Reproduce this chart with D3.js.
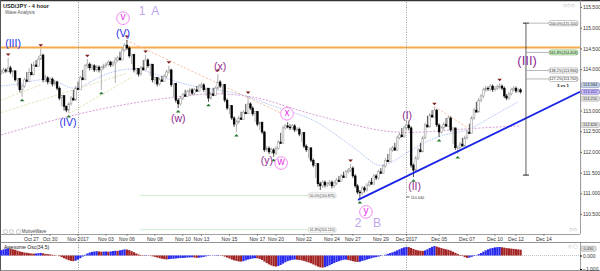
<!DOCTYPE html>
<html><head><meta charset="utf-8">
<script src="https://cdn.jsdelivr.net/npm/d3@7"></script>
<style>html,body{margin:0;padding:0;background:#fff;}svg{display:block;font-family:"Liberation Sans",Arial,sans-serif;}</style>
</head><body><svg id="c" width="600" height="271"></svg>
<script>
// ---------- DATA ----------
const firstOpen = 113.90;
const closes = [113.93,113.98,113.95,114.03,113.93,113.96,113.74,113.78,113.50,113.59,113.74,113.70,113.92,113.86,114.10,114.06,114.24,114.34,113.74,113.79,
113.69,113.76,113.64,113.69,113.54,113.30,113.36,113.10,113.01,113.16,113.30,113.25,113.54,113.50,113.79,113.74,114.08,114.12,114.03,114.08,
113.98,114.05,113.98,114.03,114.08,114.12,114.17,114.10,114.15,114.22,114.27,114.22,114.46,114.58,114.51,114.32,114.36,113.98,114.02,113.88,
114.03,113.98,114.22,114.08,114.12,113.74,113.80,113.64,113.74,113.70,113.83,113.93,113.98,113.62,113.66,113.25,113.16,113.30,113.38,113.34,
113.45,113.50,113.42,113.50,113.46,113.59,113.62,113.50,113.54,113.30,113.40,113.36,113.54,113.69,113.59,113.63,113.25,113.06,113.12,112.82,
112.67,112.72,112.82,112.78,112.96,112.92,113.16,113.06,112.92,112.98,112.67,112.72,112.48,112.05,112.09,112.00,112.05,111.97,112.09,112.24,
112.20,112.58,112.63,112.60,112.58,112.63,112.53,112.55,112.43,112.47,112.14,112.05,112.10,111.80,111.68,111.72,111.23,111.18,111.27,111.20,
111.23,111.27,111.18,111.25,111.32,111.28,111.42,111.38,111.52,111.56,111.61,111.42,111.18,111.03,111.01,111.13,111.08,111.20,111.27,111.22,
111.42,111.37,111.52,111.48,111.66,111.80,111.76,112.05,112.10,112.04,112.34,112.41,112.36,112.58,112.65,112.58,111.68,111.56,111.85,112.05,
112.00,112.34,112.65,112.60,112.89,112.84,113.01,112.65,112.48,112.58,112.67,112.62,112.82,112.53,112.58,112.10,112.10,112.19,112.14,112.34,
112.48,112.44,112.82,113.01,112.96,113.25,113.35,113.50,113.54,113.52,113.59,113.50,113.54,113.57,113.59,113.54,113.35,113.30,113.40,113.50,
113.54,113.47,113.50,113.45];
const highs = [113.99,114.04,114.02,114.27,114.08,113.97,113.90,113.78,113.68,113.64,113.79,113.93,114.03,114.13,114.18,114.22,114.31,114.49,114.37,113.86,
113.83,113.81,113.80,113.74,113.72,113.58,113.34,113.20,113.12,113.20,113.35,113.50,113.60,113.70,113.84,113.98,114.12,114.24,114.16,114.13,
114.12,114.10,114.09,114.08,114.13,114.17,114.22,114.20,114.20,114.29,114.32,114.42,114.51,114.63,114.70,114.55,114.36,114.20,114.03,113.98,
114.08,114.22,114.34,114.26,114.12,113.92,113.79,113.73,113.79,113.84,113.88,113.98,114.08,114.01,113.66,113.42,113.30,113.35,113.43,113.50,
113.50,113.55,113.54,113.55,113.59,113.64,113.68,113.66,113.54,113.44,113.45,113.55,113.59,113.88,113.73,113.63,113.49,113.29,113.10,113.00,
112.86,112.78,112.87,112.97,113.01,113.16,113.35,113.20,113.10,112.96,112.81,112.71,112.62,112.51,112.14,112.13,112.10,112.09,112.14,112.29,
112.46,112.63,112.68,112.72,112.67,112.68,112.67,112.60,112.59,112.47,112.33,112.18,112.09,111.94,111.84,111.72,111.46,111.28,111.32,111.31,
111.28,111.32,111.31,111.30,111.37,111.42,111.47,111.52,111.57,111.61,111.71,111.65,111.46,111.22,111.08,111.18,111.17,111.25,111.32,111.37,
111.47,111.46,111.57,111.61,111.71,111.85,111.95,112.10,112.15,112.22,112.39,112.46,112.58,112.63,112.77,112.75,112.62,111.72,111.90,112.10,
112.22,112.39,112.70,112.87,112.94,113.01,113.08,113.04,112.69,112.63,112.72,112.82,112.87,112.86,112.57,112.28,112.16,112.24,112.34,112.39,
112.53,112.68,112.87,113.06,113.21,113.30,113.40,113.55,113.60,113.58,113.64,113.63,113.59,113.62,113.66,113.63,113.58,113.40,113.45,113.55,
113.59,113.58,113.55,113.54];
const lows = [113.86,113.90,113.91,113.92,113.88,113.80,113.70,113.58,113.44,113.33,113.55,113.70,113.84,113.94,114.02,114.08,114.12,114.22,113.68,113.68,
113.63,113.64,113.58,113.60,113.49,113.25,113.10,113.00,112.96,112.94,113.12,113.26,113.40,113.50,113.60,113.75,113.89,114.02,113.97,113.98,
113.93,113.94,113.92,113.50,113.99,114.03,114.08,114.05,114.06,113.67,114.17,114.23,114.33,114.42,114.46,114.27,114.12,113.92,113.87,113.82,
113.84,113.99,114.12,114.03,113.83,113.68,113.63,113.58,113.60,113.70,113.74,113.79,113.89,113.57,113.33,113.19,113.06,113.12,113.25,113.33,
113.35,113.36,113.37,113.38,113.46,113.50,113.54,113.45,113.35,113.21,113.26,113.36,113.46,113.50,113.54,113.40,113.20,113.01,112.91,112.77,
112.60,112.48,112.68,112.78,112.88,112.92,113.07,113.01,112.87,112.72,112.62,112.53,112.43,112.00,112.00,111.95,111.96,111.88,111.93,112.05,
112.20,112.37,112.54,112.57,112.53,112.54,112.48,112.49,112.38,112.24,112.09,112.00,111.85,111.75,111.63,111.37,111.16,111.08,111.13,111.14,
111.15,111.18,111.12,111.13,111.20,111.27,111.32,111.37,111.42,111.47,111.51,111.37,111.13,110.98,110.86,110.96,111.02,111.04,111.16,111.22,
111.28,111.32,111.33,111.47,111.52,111.62,111.76,111.86,112.00,112.05,112.13,112.30,112.37,112.48,112.53,112.52,111.62,111.39,111.52,111.81,
112.00,112.12,112.30,112.60,112.77,112.84,112.91,112.60,112.36,112.44,112.53,112.62,112.72,112.48,112.19,112.05,111.95,112.05,112.14,112.24,
112.30,112.43,112.58,112.77,112.96,113.11,113.20,113.30,113.45,113.47,113.47,113.45,113.46,113.49,113.52,113.49,113.30,113.25,113.26,113.36,
113.46,113.42,113.43,113.41];
const aoValues = [0.40,0.45,0.50,0.52,0.50,0.46,0.42,0.36,0.30,0.26,0.22,0.20,0.17,0.15,0.14,0.15,0.17,0.19,0.16,0.12,
0.10,0.08,0.05,0.03,0.00,-0.05,-0.12,-0.20,-0.28,-0.35,-0.40,-0.42,-0.38,-0.30,-0.20,-0.08,0.05,0.15,0.22,0.27,
0.30,0.32,0.30,0.28,0.29,0.30,0.28,0.30,0.33,0.35,0.34,0.38,0.42,0.45,0.44,0.40,0.32,0.24,0.15,0.08,
0.03,0.02,0.03,0.01,-0.02,-0.06,-0.10,-0.15,-0.20,-0.24,-0.27,-0.29,-0.27,-0.25,-0.24,-0.22,-0.20,-0.19,-0.18,-0.17,
-0.15,-0.14,-0.13,-0.15,-0.17,-0.16,-0.14,-0.10,-0.06,-0.03,-0.01,0.01,0.02,0.03,0.01,-0.03,-0.08,-0.15,-0.22,-0.30,
-0.36,-0.40,-0.44,-0.45,-0.42,-0.36,-0.30,-0.26,-0.22,-0.20,-0.21,-0.25,-0.33,-0.45,-0.56,-0.66,-0.74,-0.80,-0.82,-0.78,
-0.70,-0.60,-0.50,-0.42,-0.36,-0.32,-0.30,-0.31,-0.33,-0.36,-0.40,-0.46,-0.52,-0.58,-0.66,-0.74,-0.82,-0.88,-0.90,-0.86,
-0.80,-0.72,-0.64,-0.56,-0.48,-0.42,-0.36,-0.32,-0.30,-0.33,-0.38,-0.42,-0.46,-0.48,-0.46,-0.40,-0.36,-0.30,-0.25,-0.20,
-0.15,-0.12,-0.08,-0.04,0.00,0.06,0.12,0.18,0.24,0.30,0.38,0.46,0.54,0.60,0.64,0.62,0.56,0.48,0.42,0.38,
0.35,0.34,0.38,0.46,0.56,0.64,0.70,0.66,0.60,0.55,0.50,0.46,0.42,0.36,0.28,0.20,0.12,0.04,-0.04,-0.12,
-0.18,-0.16,-0.10,-0.04,0.02,0.10,0.18,0.28,0.38,0.46,0.52,0.56,0.60,0.62,0.63,0.61,0.58,0.55,0.53,0.51,
0.49,0.47,0.45,0.43];

// 113.500 is hidden behind the price tags in the reference, so it is not listed
const priceTicks = [110.5,111,111.5,112,112.5,113,114,114.5,115,115.5];
const aoTicks = [0,-1];
const dateTickIdx = [13,21,33,45,54,66,78,86,98,110,118,130,142,151,163,174,188,200,212,221,233];
const dateTickLabels = ["Oct 27","Oct 30","Nov 2017","Nov 03","Nov 06","Nov 08","Nov 10","Nov 13","Nov 15","Nov 17","Nov 20","Nov 22","Nov 24","Nov 27","Nov 29","Dec 2017","Dec 05","Dec 07","Dec 10","Dec 12","Dec 14"];
const monthLineIdx = [33,174];

const resistanceLevel = 114.52;
const trendIdx = [153.2, 248.5];
const trendPrice = [110.84, 113.45];

const peakIdx = [3,17,37,54,62,72,93,106,123,150,186,214];
const troughIdx = [9,29,43,76,89,101,117,154,177,188,196];

// moving averages (read as sparse points: index, price)
const fastMaIdx   = [0,8,19,25,30,36,42,53,62,72,85,102,118,133,142,157,163,177,191,200,210,222];
const fastMaPrice = [113.59,113.64,113.79,113.69,113.50,113.59,113.83,114.03,113.98,113.74,113.54,113.45,113.06,112.84,112.48,111.88,111.52,112.12,112.46,112.48,112.84,113.21];
const slowMaIdx   = [0,21,42,64,81,92,111,124,137,150,163,176,193,206,223];
const slowMaPrice = [112.41,112.75,113.04,113.25,113.37,113.43,113.33,113.06,112.86,112.67,112.50,112.45,112.53,112.58,112.63];

// trend-line annotations (index, price pairs)
const orangeLines = [[[53.6,114.70],[120,112.94]],[[186,113.10],[201,112.55]]];
const oliveLines  = [[[0,113.25],[17,113.62]],[[0,112.95],[54,113.90]],[[29,112.92],[56,113.80]]];

// Fibonacci projection
const fibPct = ["200.0%","161.8%","138.2%","127.2%"];
const fibVal = [115.110,114.403,113.966,113.762];
const fibLineIdx = 225.3;
const fibBottom = 111.44;
const retrPct = ["50.0%","61.8%"];
const retrVal = [110.875,110.110];
const retrPos = [110.95,110.12];
const retrFromIdx = 59.5;
const retrToIdx = 131.8;

// axis price tags
const tagVals = ["113.584","113.452","113.210","112.626"];
const tagPrice = [113.615,113.45,113.285,112.65];

// wave labels
const waveText  = ["(III)","(IV)","(V)","(x)","(w)","(y)","(I)","(II)","(III)","1","A","2","B","v","x","w","y"];
const waveKind  = ["blue","blue","blue","purple","purple","purple","purple","purple","purpleBig","lilac","lilac","lilac","lilac","circle","circle","circle","circle"];
const waveIdx   = [5.1,28.7,52.3,94,76,114.1,174.3,177.5,225.8,60.5,66.2,153.2,161.4,52.3,122.7,120.2,156.6];
const wavePrice = [114.63,112.72,114.87,114.08,112.82,111.80,112.89,111.18,114.22,115.42,115.40,110.28,110.28,115.23,112.92,111.73,110.55];

// ---------- DRAW ----------
const svg = d3.select("#c");
const AX = 580, TOP = 2, MB = 234, OT = 242, OB = 270;
const x = d3.scaleLinear().domain([-0.5, 248.5]).range([0, AX]);
const y = d3.scaleLinear().domain([110.5, 115.5]).range([214, 7]);
const yo = d3.scaleLinear().domain([-1, 0]).range([269, 255.5]);

svg.append("rect").attr("width",600).attr("height",271).attr("fill","#fff");
svg.append("defs").append("clipPath").attr("id","mc").append("rect").attr("x",0).attr("y",TOP).attr("width",AX).attr("height",MB-TOP);
const main = svg.append("g").attr("clip-path","url(#mc)");

// month separators
monthLineIdx.forEach(i=>{
  svg.append("line").attr("x1",Math.round(x(i))+0.5).attr("x2",Math.round(x(i))+0.5).attr("y1",TOP).attr("y2",OB)
    .attr("stroke","#9a9a9a").attr("stroke-dasharray","1,1.5").attr("stroke-width",1);
});

// retracement lines
retrPos.forEach((p,k)=>{
  main.append("line").attr("x1",x(retrFromIdx)).attr("x2",x(retrToIdx)).attr("y1",y(p)).attr("y2",y(p))
    .attr("stroke","#cdeecd").attr("stroke-width",1);
  const g = main.append("g").attr("transform",`translate(${x(retrToIdx)},${y(p)})`);
  g.append("rect").attr("x",0).attr("y",-2.5).attr("width",28).attr("height",5).attr("rx",2).attr("fill","#fff").attr("stroke","#bbb").attr("stroke-width",0.5);
  g.append("text").attr("x",14).attr("y",1.3).attr("text-anchor","middle").attr("font-size",3.6).attr("fill","#333").text(`${retrPct[k]}(${retrVal[k].toFixed(3)})`);
});

// resistance
main.append("line").attr("x1",0).attr("x2",AX).attr("y1",y(resistanceLevel)).attr("y2",y(resistanceLevel))
  .attr("stroke","#f5a94a").attr("stroke-width",2);

// MAs
const lineGen = d3.line().x(d=>x(d[0])).y(d=>y(d[1])).curve(d3.curveBasis);
main.append("path").attr("d",lineGen(slowMaIdx.map((v,k)=>[v,slowMaPrice[k]]))).attr("fill","none")
  .attr("stroke","#dc9ed8").attr("stroke-width",1).attr("stroke-dasharray","2,1.5");
main.append("path").attr("d",lineGen(fastMaIdx.map((v,k)=>[v,fastMaPrice[k]]))).attr("fill","none")
  .attr("stroke","#9fb6f4").attr("stroke-width",0.8).attr("stroke-dasharray","1.5,1");
orangeLines.forEach(l=>main.append("path").attr("d",d3.line().x(d=>x(d[0])).y(d=>y(d[1]))(l)).attr("fill","none")
  .attr("stroke","#f6b896").attr("stroke-width",0.8).attr("stroke-dasharray","2.5,1.5"));
oliveLines.forEach(l=>main.append("path").attr("d",d3.line().x(d=>x(d[0])).y(d=>y(d[1]))(l)).attr("fill","none")
  .attr("stroke","#dcdcaa").attr("stroke-width",0.8).attr("stroke-dasharray","2.5,1.5"));

// candles
const candles = closes.map((c,i)=>{const o = i ? closes[i-1] : firstOpen; return {i, o, c, h: Math.max(highs[i], c, o), l: Math.min(lows[i], c, o)};});
const cg = main.append("g");
candles.forEach(d=>{
  const up = d.c >= d.o;
  const col = up ? "#8c8c8c" : "#000";
  const cx = x(d.i);
  cg.append("line").attr("x1",cx).attr("x2",cx).attr("y1",y(d.h)).attr("y2",y(d.l)).attr("stroke",col).attr("stroke-width",0.7);
  const top = y(Math.max(d.o,d.c)), bot = y(Math.min(d.o,d.c));
  cg.append("rect").attr("x",cx-0.9).attr("y",top).attr("width",1.8).attr("height",Math.max(0.6,bot-top))
    .attr("fill", up ? "#fff" : "#000").attr("stroke",col).attr("stroke-width",0.5);
});

// peak / trough markers
peakIdx.forEach(i=>{
  const cx = x(i), yy = y(candles[i].h) - 2;
  main.append("path").attr("d",`M${cx-2.3},${yy-2.5}L${cx+2.3},${yy-2.5}L${cx},${yy}Z`).attr("fill","#7b1c1c");
});
troughIdx.forEach(i=>{
  const cx = x(i), yy = y(candles[i].l) + 2;
  main.append("path").attr("d",`M${cx-2.3},${yy+2.5}L${cx+2.3},${yy+2.5}L${cx},${yy}Z`).attr("fill","#23772f");
});

// trend line
main.append("line").attr("x1",x(trendIdx[0])).attr("y1",y(trendPrice[0])).attr("x2",x(trendIdx[1])).attr("y2",y(trendPrice[1]))
  .attr("stroke","#1a24e6").attr("stroke-width",1.8);

// fib projection
const fx = x(fibLineIdx);
main.append("line").attr("x1",fx).attr("x2",fx).attr("y1",y(fibVal[0])).attr("y2",y(fibBottom)).attr("stroke","#333").attr("stroke-width",0.8);
[fibVal[0], fibBottom].forEach(p=>main.append("line").attr("x1",fx-3).attr("x2",fx+3).attr("y1",y(p)).attr("y2",y(p)).attr("stroke","#222").attr("stroke-width",1));
fibVal.forEach((v,k)=>{
  main.append("line").attr("x1",fx).attr("x2",549).attr("y1",y(v)).attr("y2",y(v)).attr("stroke","#999").attr("stroke-width",0.7);
  const g = main.append("g").attr("transform",`translate(549,${y(v)})`);
  g.append("rect").attr("x",0).attr("y",-2.6).attr("width",29).attr("height",5.2).attr("rx",2.2)
    .attr("fill", k===1 ? "#c9efc0" : "#fff").attr("stroke", k===1 ? "#7ab070" : "#888").attr("stroke-width",0.5);
  g.append("text").attr("x",14.5).attr("y",1.4).attr("text-anchor","middle").attr("font-size",3.7).attr("fill","#222").text(`${fibPct[k]}(${v.toFixed(3)})`);
});
main.append("text").attr("x",557).attr("y",y(tagPrice[0])+1.5).attr("font-size",4.3).attr("font-weight","bold").attr("fill","#111").text("3 vs 1");

// wave labels
const kindStyle = {
  blue:{fill:"#2430e8",size:10.5},
  purple:{fill:"#8e2a8e",size:10.5},
  purpleBig:{fill:"#8e2a8e",size:13},
  lilac:{fill:"#c0a4ee",size:12},
  circle:{fill:"#e62ee6",size:10}
};
waveText.forEach((t,k)=>{
  const st = kindStyle[waveKind[k]];
  const cx = x(waveIdx[k]), cy = y(wavePrice[k]);
  if (waveKind[k]==="circle") {
    svg.append("circle").attr("cx",cx).attr("cy",cy).attr("r",6.3).attr("fill","#fff").attr("stroke","#f27af2").attr("stroke-width",0.9);
    svg.append("text").attr("x",cx).attr("y",cy+2.2).attr("text-anchor","middle").attr("font-size",st.size).attr("fill",st.fill).text(t);
  } else {
    svg.append("text").attr("x",cx).attr("y",cy+st.size*0.36).attr("text-anchor","middle").attr("font-size",st.size)
      .attr("fill",st.fill).text(t);
  }
});

// frame
svg.append("line").attr("x1",0).attr("x2",600).attr("y1",0.5).attr("y2",0.5).attr("stroke","#333").attr("stroke-width",1.5);
svg.append("line").attr("x1",0.5).attr("x2",0.5).attr("y1",0).attr("y2",271).attr("stroke","#555");
svg.append("line").attr("x1",0).attr("x2",AX).attr("y1",MB+0.5).attr("y2",MB+0.5).attr("stroke","#888").attr("stroke-width",0.8);
svg.append("line").attr("x1",0).attr("x2",600).attr("y1",OT+0.5).attr("y2",OT+0.5).attr("stroke","#777").attr("stroke-width",0.8);
svg.append("line").attr("x1",0).attr("x2",600).attr("y1",270.5).attr("y2",270.5).attr("stroke","#777").attr("stroke-width",0.8);

// right price axis
const ya = d3.axisRight(y).tickValues(priceTicks).tickFormat(d3.format(".3f")).tickSize(2).tickPadding(1);
const yag = svg.append("g").attr("transform",`translate(${AX},0)`).call(ya);
yag.select(".domain").remove();
yag.selectAll("text").attr("font-size",5).attr("fill","#333");
yag.selectAll(".tick line").attr("stroke","#555");
svg.append("line").attr("x1",AX+0.5).attr("x2",AX+0.5).attr("y1",TOP).attr("y2",MB).attr("stroke","#888").attr("stroke-width",0.8);
const minor = d3.range(110.5,115.76,0.05);
svg.append("g").selectAll("line").data(minor).join("line").attr("x1",AX).attr("x2",AX+1.5).attr("y1",d=>y(d)).attr("y2",d=>y(d)).attr("stroke","#999").attr("stroke-width",0.5);

// axis price tags
const tagFill = ["#c9d3ea","#cdbff0","#e4e4e4","#e4e4e4"];
const tagStroke = ["#7485b5","#6a5fb8","#999","#999"];
tagVals.forEach((t,k)=>{
  const g = svg.append("g").attr("transform",`translate(${AX+1},${y(tagPrice[k])})`);
  g.append("rect").attr("x",0).attr("y",-2.5).attr("width",18.5).attr("height",5).attr("rx",1.5).attr("fill",tagFill[k]).attr("stroke",tagStroke[k]).attr("stroke-width",0.5);
  g.append("text").attr("x",9.2).attr("y",1.4).attr("text-anchor","middle").attr("font-size",4).attr("fill", k===1?"#2b2bb0":"#333").text(t);
});

// date axis
dateTickIdx.forEach((i,k)=>{
  svg.append("line").attr("x1",x(i)).attr("x2",x(i)).attr("y1",MB).attr("y2",MB+2).attr("stroke","#555").attr("stroke-width",0.6);
  svg.append("text").attr("x",x(i)).attr("y",MB+6.5).attr("text-anchor","middle").attr("font-size",5).attr("fill","#333").text(dateTickLabels[k]);
});

// oscillator
svg.append("line").attr("x1",0).attr("x2",AX).attr("y1",yo(0)).attr("y2",yo(0)).attr("stroke","#888").attr("stroke-width",0.5).attr("stroke-dasharray","1,1");
aoValues.forEach((v,i)=>{
  const up = i===0 || v > aoValues[i-1];
  svg.append("rect").attr("x",x(i)-1.1).attr("width",2.2).attr("y",Math.min(yo(v),yo(0))).attr("height",Math.abs(yo(v)-yo(0)))
    .attr("fill", up ? "#2a2aef" : "#a32424");
});
svg.append("line").attr("x1",AX+0.5).attr("x2",AX+0.5).attr("y1",OT).attr("y2",OB).attr("stroke","#888").attr("stroke-width",0.8);
const oa = d3.axisRight(yo).tickValues(aoTicks).tickFormat(d3.format(".3f")).tickSize(2).tickPadding(1);
const oag = svg.append("g").attr("transform",`translate(${AX},0)`).call(oa);
oag.select(".domain").remove();
oag.selectAll("text").attr("font-size",5).attr("fill","#333");
const aoTag = svg.append("g").attr("transform",`translate(${AX+1},${yo(aoValues[aoValues.length-1])-1})`);
aoTag.append("rect").attr("x",0).attr("y",-2.5).attr("width",15).attr("height",5).attr("rx",1.5).attr("fill","#e4e4e4").attr("stroke","#888").attr("stroke-width",0.5);
aoTag.append("text").attr("x",7.5).attr("y",1.4).attr("text-anchor","middle").attr("font-size",4).attr("fill","#333").text(aoValues[aoValues.length-1].toFixed(3));
svg.append("text").attr("x",4).attr("y",OT+7).attr("font-size",5).attr("fill","#222").text("Awesome Osc(34,5)");

// titles and small texts
svg.append("text").attr("x",3).attr("y",8).attr("font-size",5.6).attr("font-weight","bold").attr("fill","#222").text("USD/JPY - 4 hour");
svg.append("text").attr("x",5).attr("y",14).attr("font-size",4.6).attr("fill","#555").text("Wave Analysis");
svg.append("text").attr("x",3).attr("y",MB-1.5).attr("font-size",4.5).attr("fill","#444").text("▢ ▢ ▢ MotiveWave");
svg.append("text").attr("x",563).attr("y",7).attr("font-size",5).attr("fill","#aaa").text("◇◇◇");
svg.append("text").attr("x",569).attr("y",MB-3).attr("font-size",5).attr("fill","#aaa").text("◇◇");
svg.append("text").attr("x",568).attr("y",OT+6).attr("font-size",5).attr("fill","#aaa").text("◇ ▢");
svg.append("text").attr("x",x(175)+2).attr("y",y(110.91)+1.5).attr("font-size",3.8).attr("fill","#444").text("110.640");
svg.append("line").attr("x1",x(174.6)-1.5).attr("x2",x(174.6)+1.5).attr("y1",y(110.91)).attr("y2",y(110.91)).attr("stroke","#333").attr("stroke-width",0.8);
</script></body></html>
